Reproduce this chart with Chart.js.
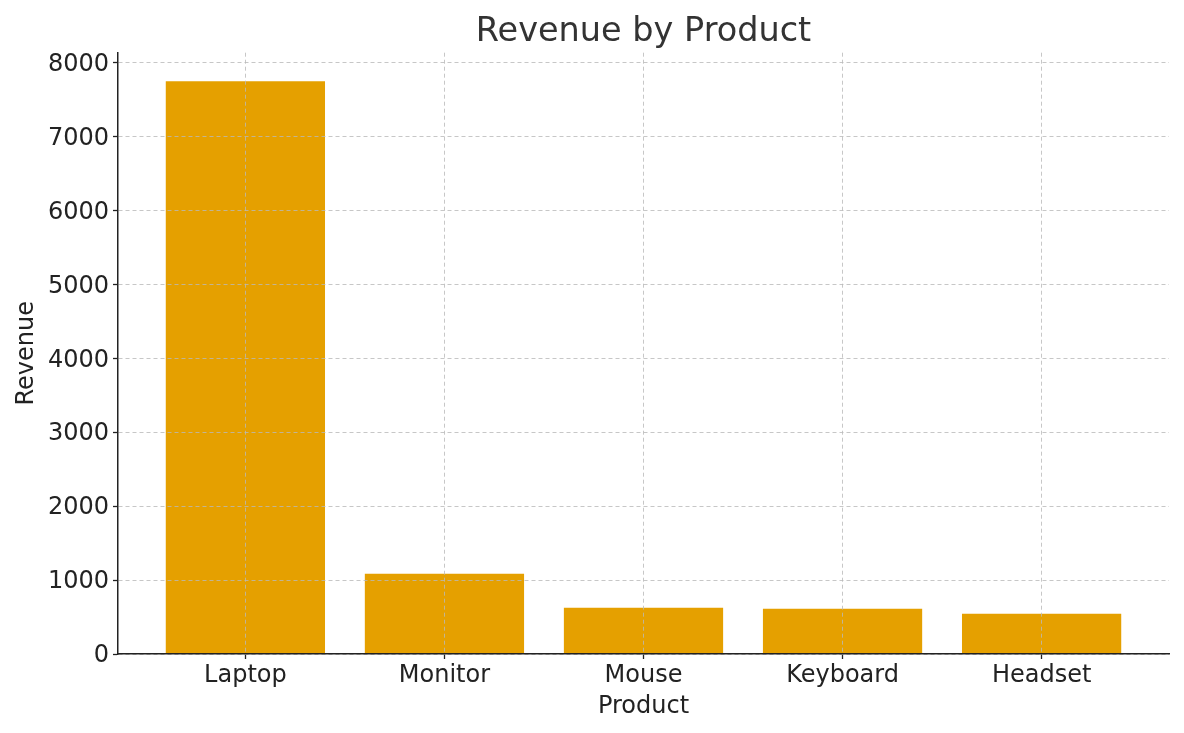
<!DOCTYPE html>
<html>
<head>
<meta charset="utf-8">
<script src="https://cdn.jsdelivr.net/npm/chart.js@4/dist/chart.umd.min.js"></script>
<style>
  html, body { margin: 0; padding: 0; background: #fff; }
  #wrap { width: 1184px; height: 733px; }
</style>
</head>
<body>
<div id="wrap"><canvas id="c"></canvas></div>
<script>
const categories = ["Laptop", "Monitor", "Mouse", "Keyboard", "Headset"];
const revenue = [7746, 1087, 627, 613, 546];
const yTicks = [0, 1000, 2000, 3000, 4000, 5000, 6000, 7000, 8000];

const FONT = "'DejaVu Sans', sans-serif";
const points = categories.map((c, i) => ({ x: i, y: revenue[i] }));

new Chart(document.getElementById('c'), {
  type: 'bar',
  data: {
    datasets: [{
      data: points,
      backgroundColor: '#E5A000',
      borderWidth: 0,
      barPercentage: 0.8,
      categoryPercentage: 1.0
    }]
  },
  options: {
    responsive: true,
    maintainAspectRatio: false,
    animation: false,
    layout: { padding: { top: 0, right: 15, bottom: 0, left: 0 } },
    plugins: {
      legend: { display: false },
      tooltip: { enabled: false },
      title: {
        display: true,
        fullSize: false,
        text: 'Revenue by Product',
        color: '#333333',
        font: { family: FONT, size: 33.5, weight: 'normal' },
        padding: { top: 12.5, bottom: 0 }
      }
    },
    scales: {
      x: {
        type: 'linear',
        min: -0.64,
        max: 4.64,
        offset: false,
        afterBuildTicks: (s) => { s.ticks = categories.map((c, i) => ({ value: i })); },
        afterFit: (s) => { s.height = 79; },
        ticks: {
          callback: (v) => categories[v],
          color: '#222',
          font: { family: FONT, size: 24 },
          padding: 2,
          maxRotation: 0,
          autoSkip: false
        },
        grid: {
          z: 1,
          offset: false,
          color: 'rgba(185,185,185,0.8)',
          lineWidth: 1,
          drawTicks: true,
          tickLength: 5,
          tickColor: '#222',
          tickWidth: 1.3,
          tickBorderDash: []
        },
        border: { display: true, z: 2, color: '#222', width: 1.5, dash: [4, 3] },
        title: {
          display: true,
          text: 'Product',
          color: '#222',
          font: { family: FONT, size: 24 },
          padding: { top: 2, bottom: 11.6 }
        }
      },
      y: {
        type: 'linear',
        min: 0,
        max: 8133,
        afterBuildTicks: (s) => { s.ticks = yTicks.map(v => ({ value: v })); },
        afterFit: (s) => { s.width = 118; },
        ticks: {
          callback: (v) => String(v),
          color: '#222',
          font: { family: FONT, size: 24 },
          padding: 4,
          labelOffset: 2
        },
        grid: {
          z: 1,
          color: 'rgba(185,185,185,0.8)',
          lineWidth: 1,
          drawTicks: true,
          tickLength: 5,
          tickColor: '#222',
          tickWidth: 1.3,
          tickBorderDash: []
        },
        border: { display: true, z: 2, color: '#222', width: 1.5, dash: [4, 3] },
        title: {
          display: true,
          text: 'Revenue',
          color: '#222',
          font: { family: FONT, size: 24 },
          padding: { top: 12, bottom: 2 }
        }
      }
    }
  }
});
</script>
</body>
</html>
